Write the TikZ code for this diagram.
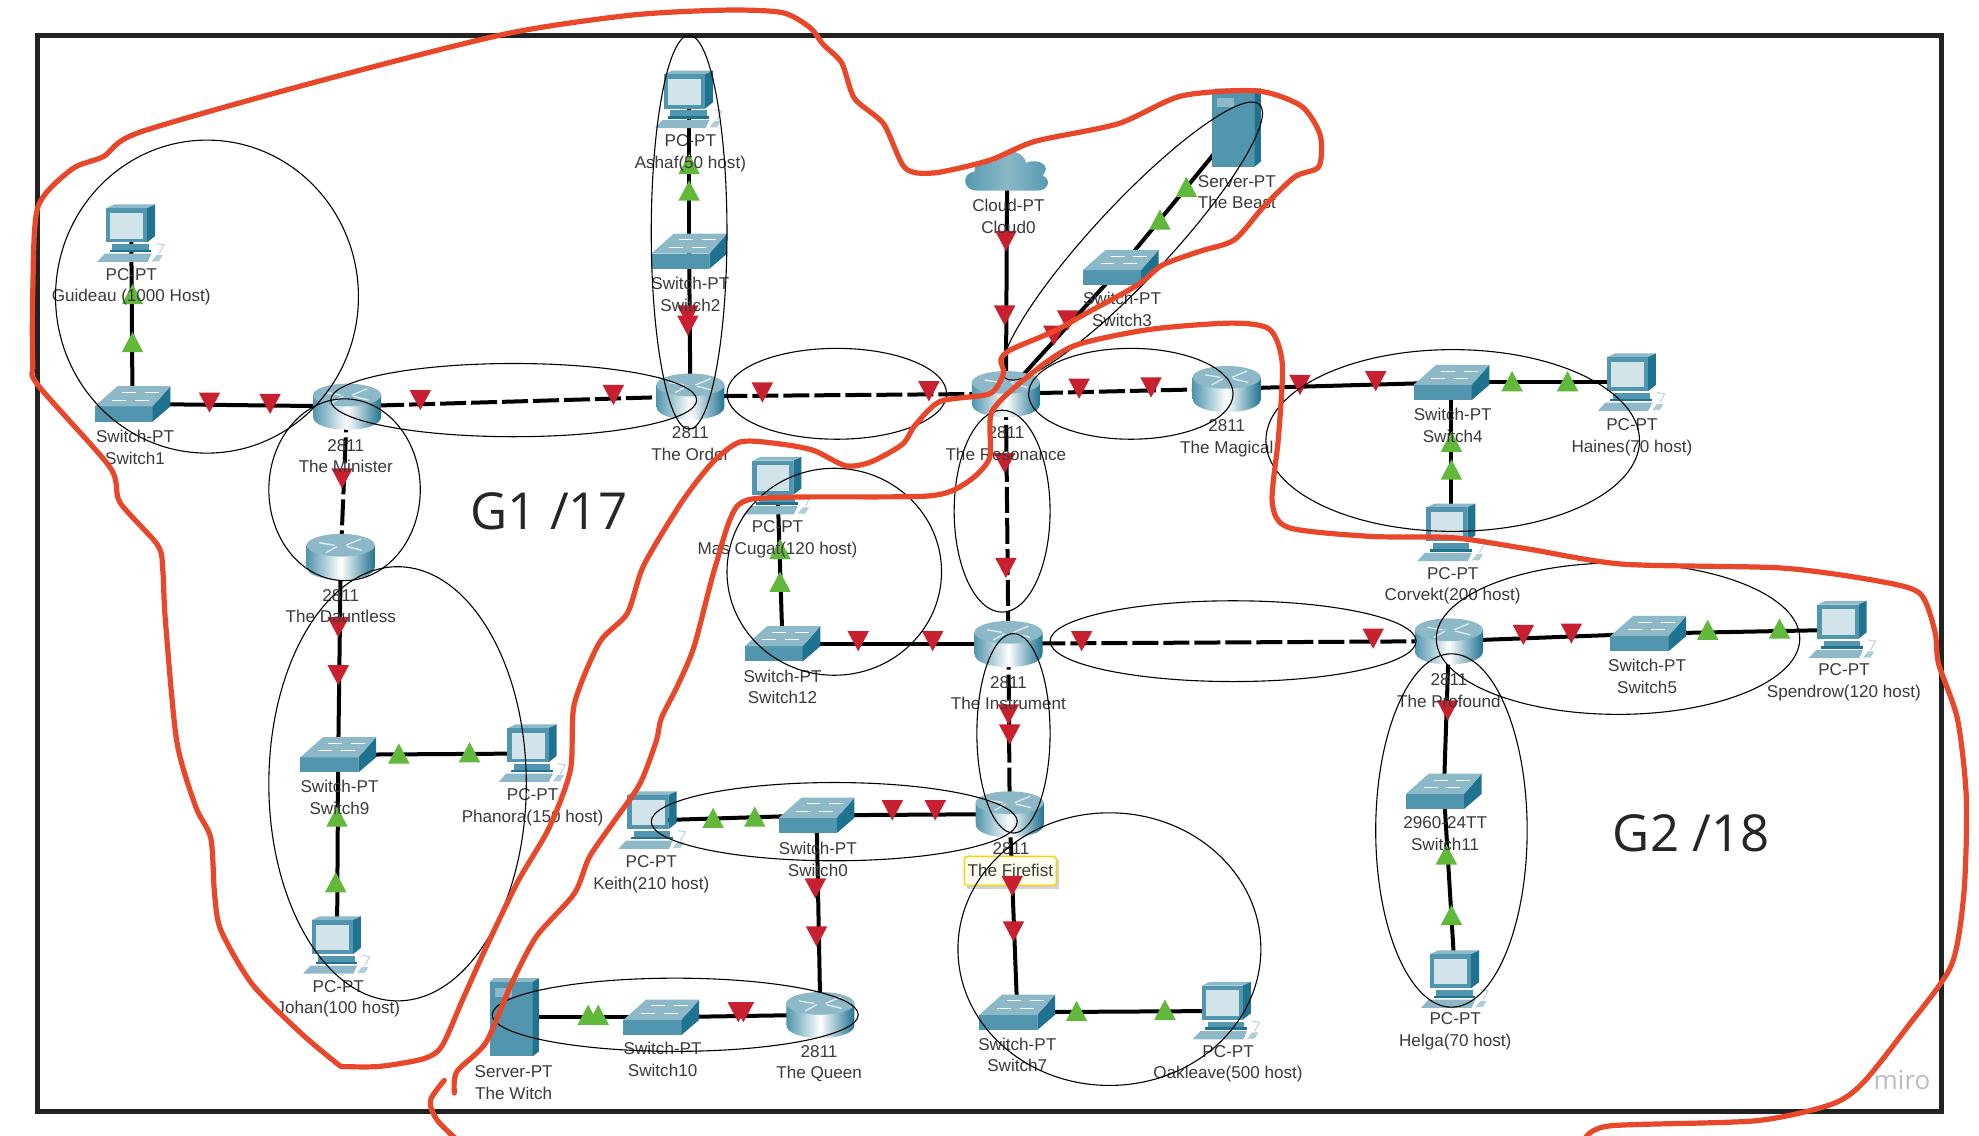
\documentclass[tikz,border=0pt]{standalone}
\usepackage{fontspec}
\setmainfont{Liberation Sans}
\newfontfamily\bigfont{Open Sans}
\definecolor{tred}{HTML}{C9202F}
\definecolor{tgreen}{HTML}{62B83B}
\definecolor{ink}{HTML}{3A3A3A}
\definecolor{frame}{HTML}{222222}
\definecolor{devmid}{HTML}{5196AE}
\definecolor{devdark}{HTML}{1F7391}
\definecolor{devlight}{HTML}{8CB8C7}
\definecolor{screen}{HTML}{D3E3EA}
\definecolor{hand}{HTML}{E8472A}
\definecolor{water}{HTML}{B9B9CC}
\tikzset{
  lbl/.style={font=\fontsize{8.55}{10.8}\selectfont,text=ink,align=center,inner sep=0pt,yshift=-1.1pt},
  wire/.style={line width=2pt,black},
  serial/.style={line width=2pt,black,dash pattern=on 13pt off 2.5pt},
  loop/.style={line width=0.55pt,black},
  redline/.style={line width=2.6pt,hand,line cap=round,line join=round},
  biglbl/.style={font=\bigfont\fontsize{25.5}{28}\selectfont,text=black!85,inner sep=0pt},
  pics/swpt/.style={code={
    \fill[devmid] (-30,2) rectangle (16,14);
    \fill[devdark] (30,-14) -- (30,2) -- (16,14) -- (16,2) -- cycle;
    \fill[devlight] (-12,-14) -- (30,-14) -- (16,2) -- (-30,2) -- cycle;
    \draw[white,line width=0.5pt] (-8,-9) -- (3,-9) (10,-9) -- (21,-9) (-16,-3) -- (-5,-3) (2,-3) -- (13,-3);
  }},
  pics/rtpt/.style={code={
    \path[left color=devmid,right color=devdark,middle color=white] (-27,-9) -- (-27,8) .. controls (-27,22) and (27,22) .. (27,8) -- (27,-9) -- cycle;
    \fill[devlight] (0,-9) ellipse[x radius=27,y radius=9];
    \draw[white!85!devdark,line width=0.7pt] (-17,-11) -- (-5,-9) (16,-14) -- (4,-9) (-12,-3) -- (-3,-8) (5,-8) -- (17,-5);
  }},
  pics/clpt/.style={code={
    \path[left color=devmid,right color=devmid,middle color=devlight] (-24,16) .. controls (-36,16) and (-36,2) .. (-26,1) .. controls (-26,-8) and (-15,-10) .. (-11,-6) .. controls (-6,-18) and (12,-18) .. (15,-6) .. controls (24,-10) and (36,-4) .. (28,4) .. controls (36,8) and (32,16) .. (24,16) -- cycle;
  }},
  pics/pcpt/.style={code={
    \fill[devlight] (-20,-20) -- (-13.5,-23) -- (19,-23) -- (12.6,-20) -- cycle;
    \fill[devdark] (12.6,-20) -- (19,-23) -- (19,2) -- (12.6,7) -- cycle;
    \fill[devmid] (-20,-20) rectangle (12.6,7);
    \fill[screen] (-16.5,-16.5) rectangle (9.5,4);
    \fill[devmid] (-15,8.5) rectangle (14,13);
    \fill[devdark] (-17,13) rectangle (16,15);
    \fill[devlight] (-27,22.5) -- (-21,16) -- (16,16) -- (13,22.5) -- cycle;
    \fill[devlight!70] (16,22) -- (20,17) -- (25,17) -- (22,22) -- cycle;
    \draw[devlight!60,line width=0.5pt] (22,16) -- (26,9) -- (20,8);
  }},
  pics/srvpt/.style={code={
    \fill[devlight] (-19,-28) -- (-16,-31) -- (20,-31) -- (15,-28) -- cycle;
    \fill[devmid] (-19,-28) rectangle (15,31);
    \fill[devdark] (15,-28) -- (20,-31) -- (20,27) -- (15,31) -- cycle;
    \fill[devlight] (-15,-23) rectangle (-1,-16);
  }},
}
\begin{document}
\begin{tikzpicture}[x=0.631pt,y=-0.631pt]
\useasboundingbox (0,0) rectangle (1568,900);
\fill[white] (0,0) rectangle (1568,900);
\draw[frame,line width=2.5pt] (29.5,28) rectangle (1538,881);

% device positions
\foreach \n/\x/\y in {
  rMin/275/322, rOrd/547/314, rDau/270/441, rRes/797/312, rMag/972/308,
  rIns/799/510, rFir/800/645, rPro/1148/508, rQue/650/804,
  s1/105/320, s2/546/199, s3/888/212, s4/1150/303, s5/1306/502, s9/268/598,
  s0/647/646, s10/524/806, s12/620/510, s7/806/802, s11/1144/627,
  pGui/104/185, pAsh/546/79, pHai/1293/303, pCor/1150/422, pSpe/1460/499,
  pHel/1153/776, pOak/972/801, pPha/422/597, pJoh/267/749, pKei/517/650, pMas/616/385,
  vBea/979/101, vWit/407/806, cCl/798/135}
  \coordinate (\n) at (\x,\y);

% connectors
\draw[wire] (s1) -- (pGui);
\draw[wire] (s1) -- (rMin);
\draw[serial] (rMin) -- (rOrd);
\draw[serial] (rMin) -- (rDau);
\draw[wire] (rDau) -- (s9);
\draw[wire] (s9) -- (pPha);
\draw[wire] (s9) -- (pJoh);
\draw[wire] (rOrd) -- (s2);
\draw[wire] (s2) -- (pAsh);
\draw[serial] (rOrd) -- (rRes);
\draw[wire] (rRes) -- (cCl);
\draw[wire] (rRes) -- (s3);
\draw[wire] (s3) -- (vBea);
\draw[serial] (rRes) -- (rMag);
\draw[wire] (rMag) -- (s4);
\draw[wire] (s4) -- (pHai);
\draw[wire] (s4) -- (pCor);
\draw[serial] (rRes) -- (rIns);
\draw[wire] (rIns) -- (s12);
\draw[wire] (s12) -- (pMas);
\draw[serial] (rIns) -- (rPro);
\draw[serial] (rIns) -- (rFir);
\draw[wire] (rPro) -- (s5);
\draw[wire] (s5) -- (pSpe);
\draw[wire] (rPro) -- (s11);
\draw[wire] (s11) -- (pHel);
\draw[wire] (rFir) -- (s0);
\draw[wire] (s0) -- (pKei);
\draw[wire] (s0) -- (rQue);
\draw[wire] (rQue) -- (s10);
\draw[wire] (s10) -- (vWit);
\draw[wire] (rFir) -- (s7);
\draw[wire] (s7) -- (pOak);

% link-state triangles
\foreach \x/\y in {166/319,214/320,333/317,486/313,545/250,545/258,271/379,268/497,268/535,
  604/311,736/310,797/191,796/250,846/254,835/266,855/308,912/307,1030/305,1090/302,
  796/367,797/450,680/508,739/508,799/566,800/582,857/508,1088/506,1207/503,1245/502,
  1147/563,707/642,741/642,646/704,647/742,803/738,585/802,589/802}
  \fill[tred] (\x-8.5,\y-8) -- (\x+8.5,\y-8) -- (\x,\y+8) -- cycle;
\foreach \x/\y in {105/233,105/271,546/130,546/151,940/148,919/174,1198/302,1242/302,
  1150/350,1150/372,1353/499,1410/498,618/435,618/461,316/597,372/596,267/647,266/699,
  565/648,598/647,466/804,474/804,853/801,923/800,1146/677,1150/725}
  \fill[tgreen] (\x,\y-8) -- (\x+8.5,\y+8) -- (\x-8.5,\y+8) -- cycle;

% icons
\foreach \n in {rMin,rOrd,rDau,rRes,rMag,rIns,rFir,rPro,rQue} \pic at (\n) {rtpt};
\foreach \n in {s1,s2,s3,s4,s5,s9,s0,s10,s12,s7,s11} \pic at (\n) {swpt};
\foreach \n in {pGui,pAsh,pHai,pCor,pSpe,pHel,pOak,pPha,pJoh,pKei,pMas} \pic at (\n) {pcpt};
\foreach \n in {vBea,vWit} \pic at (\n) {srvpt};
\pic at (cCl) {clpt};

% labels
\node[lbl] (tGui) at (104,225.5) {PC-PT\\Guideau (1000 Host)};
\node[lbl] (tS1) at (107,352.5) {Switch-PT\\Switch1};
\node[lbl] (tMin) at (274,359.5) {2811\\The Minister};
\node[lbl] (tDau) at (270,478.5) {2811\\The Dauntless};
\node[lbl] (tS9) at (269,630) {Switch-PT\\Switch9};
\node[lbl] (tPha) at (422,638) {PC-PT\\Phanora(150 host)};
\node[lbl] (tJoh) at (268,789.5) {PC-PT\\Johan(100 host)};
\node[lbl] (tWit) at (407,856) {Server-PT\\The Witch};
\node[lbl] (tS10) at (525,837.5) {Switch-PT\\Switch10};
\node[lbl] (tQue) at (649,841) {2811\\The Queen};
\node[lbl] (tKei) at (516,691) {PC-PT\\Keith(210 host)};
\node[lbl] (tS0) at (648,679) {Switch-PT\\Switch0};
\node[lbl] (tS12) at (620,542.5) {Switch-PT\\Switch12};
\node[lbl] (tMas) at (616,425.5) {PC-PT\\Mas Cugat(120 host)};
\node[lbl] (tIns) at (799,547.5) {2811\\The Instrument};
\node[lbl] (tRes) at (797,349.5) {2811\\The Resonance};
\node[lbl] (tOrd) at (547,349.5) {2811\\The Order};
\node[lbl] (tAsh) at (547,119.5) {PC-PT\\Ashaf(50 host)};
\node[lbl] (tS2) at (547,231.5) {Switch-PT\\Switch2};
\node[lbl] (tCl) at (799,169.5) {Cloud-PT\\Cloud0};
\node[lbl] (tBea) at (980,150.5) {Server-PT\\The Beast};
\node[lbl] (tS3) at (889,243.5) {Switch-PT\\Switch3};
\node[lbl] (tMag) at (972,345.5) {2811\\The Magical};
\node[lbl] (tS4) at (1151,335.5) {Switch-PT\\Switch4};
\node[lbl] (tHai) at (1293,344.5) {PC-PT\\Haines(70 host)};
\node[lbl] (tCor) at (1151,462.5) {PC-PT\\Corvekt(200 host)};
\node[lbl] (tPro) at (1148,545.5) {2811\\The Profound};
\node[lbl] (tS5) at (1305,534) {Switch-PT\\Switch5};
\node[lbl] (tSpe) at (1461,539) {PC-PT\\Spendrow(120 host)};
\node[lbl] (tS11) at (1145,658.5) {2960-24TT\\Switch11};
\node[lbl] (tHel) at (1153,815.5) {PC-PT\\Helga(70 host)};
\node[lbl] (tS7) at (806,834) {Switch-PT\\Switch7};
\node[lbl] (tOak) at (973,841) {PC-PT\\Oakleave(500 host)};
\node[lbl] (tFirA) at (801,671) {2811};
\fill[black!18] (766,681) rectangle (839,704);
\node[lbl,draw=yellow!70!orange,fill=yellow!6,rounded corners=1.5pt,line width=0.7pt,minimum width=46pt,minimum height=14.5pt,yshift=1.1pt] (tFir) at (800.5,690) {The Firefist};
\fill[tred] (802-8.5,702-8) -- (802+8.5,702-8) -- (802,702+8) -- cycle;

% hand-drawn group circles
\foreach \x/\y/\rx/\ry in {164/235/120/124, 407/317/145/29, 546/184/30/156, 663/312/87/36,
  273/388/60/72, 315/621/102/172, 661/453/85/82, 896/312/81/36, 794/405/38/80,
  803/581/29/79, 1151/349/148/72, 977/508/145/32, 1282/506/144/60, 1150/658/60/140,
  661/651/145/31, 535/804/145/29, 879/752/120/108}
  \draw[loop] (\x,\y) ellipse[x radius=\rx,y radius=\ry];
\draw[loop,rotate around={47:(897,191)}] (897,191) ellipse[x radius=148,y radius=30];

% group labels
\node[biglbl] (g1) at (435,405) {G1 /17};
\node[biglbl] (g2) at (1340,660) {G2 /18};
\node[font=\bigfont\fontsize{13}{14}\selectfont,text=water,inner sep=0pt] (miro) at (1507,856) {miro};

% hand-drawn group boundaries
\draw[redline] plot[smooth,tension=0.45] coordinates {
 (270,845)(300,845)(335,839)(350,829)(367,791)(385,751)(410,699)(435,656)(452,610)(455,558)(475,509)(497,486)(510,448)
 (540,398)(565,366)(587,350)(620,352)(645,357)(670,369)(690,366)(715,352)(725,337)(745,318)(784,312)(795,296)(793,285)(801,277)(836,262)(861,248)
 (901,226)(921,210)(951,199)(978,190)(1001,164)(1026,140)(1045,132)(1046,107)(1031,84)(996,72)(936,76)(886,98)(820,112)(784,127)(740,137)(717,133)
 (700,98)(677,78)(667,50)(652,35)(642,22)(620,10)(575,8)(500,12)(400,27)(250,65)(110,105)(82,124)(57,134)(30,164)(26,230)(26,288)(30,305)
 (87,370)(95,398)(125,432)(129,452)(131,491)(140,587)(155,639)(167,664)(170,708)(175,737)(200,780)(240,820)(270,845)};
\draw[redline] plot[smooth,tension=0.45] coordinates {
 (360,866)(362,849)(385,826)(405,780)(425,742)(455,708)(467,679)(487,650)(507,621)(520,587)(524,569)(537,543)(550,512)(567,448)
 (585,400)(625,394)(735,393)(765,383)(784,363)(786,326)(816,297)(851,274)(911,261)(976,256)(1006,261)(1016,288)(1013,346)(1008,398)(1021,418)
 (1086,425)(1151,426)(1211,435)(1286,447)(1411,450)(1486,460)(1521,470)(1533,500)(1536,526)(1551,570)(1558,633)(1556,708)(1546,765)
 (1511,814)(1476,858)(1451,875)(1391,888)(1276,892)(1256,902)};
\draw[redline] plot[smooth,tension=0.5] coordinates {(352,856)(341,872)(346,887)(362,903)};
\end{tikzpicture}
\end{document}
